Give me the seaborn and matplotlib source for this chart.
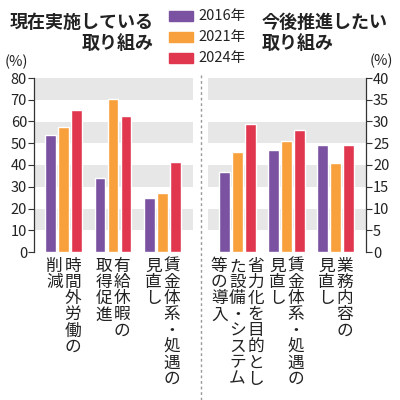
import pandas as pd
import seaborn as sns
import matplotlib.pyplot as plt

# データ
years = ['2016年', '2021年', '2024年']
colors = ['#7b52a1', '#f7a03c', '#e0374f']

now_items = ['時間外労働の\n削減', '有給休暇の\n取得促進', '賃金体系・処遇の\n見直し']
now_2016 = [54, 34, 25]
now_2021 = [57.5, 70.5, 27]
now_2024 = [65.5, 62.5, 41.5]

future_items = ['省力化を目的とし\nた設備・システム\n等の導入', '賃金体系・処遇の\n見直し', '業務内容の\n見直し']
future_2016 = [18.5, 23.5, 24.5]
future_2021 = [23, 25.5, 20.5]
future_2024 = [29.5, 28, 24.5]


def make_df(items, a, b, c):
    rows = []
    for vals, y in zip([a, b, c], years):
        for it, v in zip(items, vals):
            rows.append({'item': it, 'year': y, 'value': v})
    return pd.DataFrame(rows)


df_now = make_df(now_items, now_2016, now_2021, now_2024)
df_fut = make_df(future_items, future_2016, future_2021, future_2024)

sns.set_style('white')
num_font = ['Liberation Sans Narrow', 'Noto Sans CJK JP']
jp_font = ['Noto Sans CJK JP', 'DejaVu Sans']
plt.rcParams['font.family'] = jp_font

fig = plt.figure(figsize=(4, 4), dpi=100)
ax1 = fig.add_axes([0.085, 0.37, 0.3975, 0.435])
ax2 = fig.add_axes([0.52, 0.37, 0.395, 0.435])


def draw(ax, df, items, ymax, step, right=False):
    # 背景の縞
    for lo in range(step, ymax, step * 2):
        ax.axhspan(lo, lo + step, color='#e7e7e7', zorder=0, lw=0)
    sns.barplot(data=df, x='item', y='value', hue='year', order=items,
                hue_order=years, palette=colors, width=0.79, gap=0.17,
                ax=ax, legend=False, zorder=2, saturation=1)
    ax.set_xlim(-0.6, 2.62)
    ax.set_ylim(0, ymax)
    ax.set_yticks(range(0, ymax + 1, step))
    ax.set_xticks([])
    ax.set_xlabel('')
    ax.set_ylabel('')
    for s in ['top', 'bottom', 'left', 'right']:
        ax.spines[s].set_visible(False)
    side = 'right' if right else 'left'
    ax.spines[side].set_visible(True)
    ax.spines[side].set_color('#333333')
    ax.spines[side].set_linewidth(0.9)
    if right:
        ax.yaxis.tick_right()
    ax.tick_params(axis='y', length=4, width=0.8, color='#333333', pad=1,
                   labelsize=10.5, labelcolor='#222222', left=not right, right=right)
    for t in ax.get_yticklabels():
        t.set_family(num_font)
    # 縦書きラベル
    tr = ax.get_xaxis_transform()
    for i, it in enumerate(items):
        cols = it.split('\n')
        n = len(cols)
        pitch = 0.37
        for j, col in enumerate(cols):
            x = i + (n - 1) / 2 * pitch - j * pitch
            ax.text(x, -0.035, '\n'.join(col), transform=tr, ha='center',
                    va='top', fontsize=12, linespacing=0.93, color='#222222')


draw(ax1, df_now, now_items, 80, 10)
draw(ax2, df_fut, future_items, 40, 5, right=True)

# タイトル
fig.text(0.385, 0.967, '現在実施している\n取り組み', ha='right', va='top',
         fontsize=13, fontweight='bold', linespacing=1.12, color='#222222')
fig.text(0.655, 0.967, '今後推進したい\n取り組み', ha='left', va='top',
         fontsize=13, fontweight='bold', linespacing=1.12, color='#222222')
fig.text(0.012, 0.845, '(%)', ha='left', va='center', fontsize=10.5,
         family=num_font, color='#222222')
fig.text(0.925, 0.848, '(%)', ha='left', va='center', fontsize=10.5,
         family=num_font, color='#222222')

# 凡例
for k, (y, c) in enumerate(zip(years, colors)):
    yy = 0.96 - k * 0.0525
    fig.patches.append(plt.Rectangle((0.423, yy - 0.013), 0.06, 0.026,
                                     transform=fig.transFigure, color=c))
    fig.text(0.497, yy, y, ha='left', va='center', fontsize=10.5,
             family=num_font, color='#222222')

# 区切り線
fig.add_artist(plt.Line2D([0.5025, 0.5025], [0.0, 0.812], color='#999999',
                          lw=1, ls=(0, (2, 2)), transform=fig.transFigure))

fig.savefig('out.png', dpi=100, facecolor='white')
